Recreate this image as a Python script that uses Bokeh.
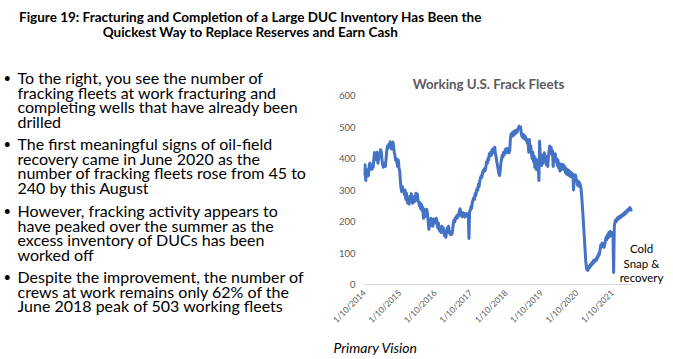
import math
import pandas as pd
from bokeh.plotting import figure
from bokeh.layouts import column, row
from bokeh.models import Label, Range1d, FixedTicker, ColumnDataSource
from bokeh.embed import file_html
from bokeh.resources import INLINE

# ---------------- data (weekly working frack fleets) ----------------
fleets_2014 = [345, 380, 330, 360, 350, 365, 345, 375, 385, 370,
               380, 365, 375, 372, 400, 419, 405, 412, 395, 420,
               385, 400, 415, 410, 428, 420, 395, 380, 372, 378,
               385, 375, 400, 425, 440, 432, 445, 438, 453, 440,
               430, 445, 452, 440, 420, 410, 395, 400, 385, 375,
               395, 370]
fleets_2015 = [360, 330, 305, 295, 310, 298, 300, 285, 300, 270,
               290, 265, 258, 262, 255, 280, 265, 288, 270, 258,
               275, 262, 280, 265, 290, 275, 287, 268, 262, 250,
               260, 240, 255, 235, 245, 210, 240, 215, 230, 220,
               238, 222, 200, 175, 205, 185, 210, 190, 200, 185,
               208, 195]
fleets_2016 = [205, 195, 210, 198, 180, 195, 175, 170, 180, 165,
               185, 168, 180, 165, 155, 170, 150, 168, 180, 165,
               185, 170, 162, 158, 165, 160, 175, 195, 205, 198,
               212, 208, 218, 212, 222, 218, 235, 240, 228, 222,
               215, 228, 220, 226, 214, 224, 218, 225, 222, 220,
               146, 232]
fleets_2017 = [235, 248, 242, 262, 268, 275, 270, 288, 282, 295,
               305, 300, 318, 312, 330, 338, 345, 340, 355, 362,
               358, 368, 362, 375, 390, 385, 400, 395, 415, 408,
               420, 410, 428, 418, 432, 425, 436, 415, 405, 390,
               378, 365, 352, 346, 360, 385, 398, 410, 405, 420,
               412, 425]
fleets_2018 = [430, 418, 432, 422, 428, 418, 425, 462, 478, 470,
               482, 472, 486, 476, 488, 480, 490, 484, 494, 498,
               503, 495, 500, 480, 470, 478, 465, 475, 462, 470,
               458, 462, 448, 455, 420, 460, 425, 440, 415, 400,
               420, 390, 408, 372, 400, 365, 395, 380, 385, 330,
               455, 410]
fleets_2019 = [400, 378, 410, 385, 402, 418, 392, 408, 380, 398,
               375, 405, 425, 440, 428, 435, 412, 425, 375, 408,
               395, 415, 392, 400, 378, 395, 370, 385, 360, 378,
               365, 382, 368, 380, 365, 375, 355, 368, 350, 365,
               348, 362, 345, 358, 342, 355, 345, 350, 300, 345,
               330, 348]
fleets_2020 = [335, 325, 315, 328, 312, 322, 315, 305, 280, 248,
               215, 180, 145, 110, 75, 52, 46, 45, 50, 58,
               55, 64, 60, 70, 65, 75, 70, 78, 74, 82,
               78, 90, 86, 98, 95, 110, 125, 118, 132, 120,
               125, 118, 128, 140, 150, 142, 158, 148, 165, 152,
               168, 158]
fleets_2021 = [165, 155, 162, 38, 185, 198, 205, 200, 210, 206,
               214, 210, 216, 212, 220, 216, 222, 219, 226, 222,
               230, 226, 234, 230, 238, 235, 242, 244, 240, 236,
               238]
first_week = "2014-01-10"

tick_dates = ["2014-01-10", "2015-01-10", "2016-01-10", "2017-01-10",
              "2018-01-10", "2019-01-10", "2020-01-10", "2021-01-10"]
tick_labels = ["1/10/2014", "1/10/2015", "1/10/2016", "1/10/2017",
               "1/10/2018", "1/10/2019", "1/10/2020", "1/10/2021"]
y_ticks = [0, 100, 200, 300, 400, 500, 600]

title_lines = ["Figure 19: Fracturing and Completion of a Large DUC Inventory Has Been the",
               "Quickest Way to Replace Reserves and Earn Cash"]
chart_title = "Working U.S. Frack Fleets"
bullets = [
    ["To the right, you see the number of",
     "fracking fleets at work fracturing and",
     "completing wells that have already been",
     "drilled"],
    ["The first meaningful signs of oil-field",
     "recovery came in June 2020 as the",
     "number of fracking fleets rose from 45 to",
     "240 by this August"],
    ["However, fracking activity appears to",
     "have peaked over the summer as the",
     "excess inventory of DUCs has been",
     "worked off"],
    ["Despite the improvement, the number of",
     "crews at work remains only 62% of the",
     "June 2018 peak of 503 working fleets"],
]
note_lines = ["Cold", "Snap &", "recovery"]
source_text = "Primary Vision"

# ---------------- build ----------------
values = (fleets_2014 + fleets_2015 + fleets_2016 + fleets_2017 +
          fleets_2018 + fleets_2019 + fleets_2020 + fleets_2021)
dates = pd.date_range(first_week, periods=len(values), freq="7D")
src = ColumnDataSource(data=dict(date=dates, fleets=values))

FONT = "Lato"
PAGE_W = 673
TOP_H, MID_H, BOT_H = 62, 273, 24
LEFT_W = 330
CHART_W = PAGE_W - LEFT_W


def no_align(f):
    if "frame_align" in f.properties():
        f.frame_align = False
    return f


def text_panel(w, h, x0, y0):
    """A blank figure whose data units equal page pixels (y downwards)."""
    f = figure(width=w, height=h, output_backend="svg", toolbar_location=None,
               x_range=Range1d(x0, x0 + w), y_range=Range1d(y0 + h, y0),
               x_axis_location=None, y_axis_location=None,
               min_border=0, min_border_left=0, min_border_right=0,
               min_border_top=0, min_border_bottom=0)
    f.outline_line_color = None
    f.grid.visible = False
    f.background_fill_color = "white"
    f.border_fill_color = "white"
    return no_align(f)


def put(fig, text, X, Y, size, color="#000000", align="left", style="normal",
        units="data"):
    fig.add_layout(Label(x=X, y=Y, x_units=units, y_units=units,
                         text=text, text_font=FONT, text_font_size=size,
                         text_color=color, text_align=align,
                         text_baseline="middle", text_font_style=style))


# --- title strip ---
top = text_panel(PAGE_W, TOP_H, 0, 0)
put(top, title_lines[0], 250, 16, "13.5px", align="center", style="bold")
put(top, title_lines[1], 250, 31, "13.5px", align="center", style="bold")

# --- bullets ---
left = text_panel(LEFT_W, MID_H, 0, TOP_H)
first_y = [77, 143, 210, 276]
for lines, y0 in zip(bullets, first_y):
    put(left, "\u2022", 3, y0, "13px")
    for i, line in enumerate(lines):
        put(left, line, 17, y0 + i * 14.7, "16px")

# --- source strip ---
bottom = text_panel(PAGE_W, BOT_H, 0, TOP_H + MID_H)
put(bottom, source_text, 333, 347, "14px", style="italic")

# --- chart ---
F_LEFT, F_RIGHT, F_TOP, F_BOT = 363, 666, 70, 286      # frame box, page px
Y0_PX, Y600_PX = 284, 95
px_per_unit = (Y0_PX - Y600_PX) / 600.0
y_start = -(F_BOT - Y0_PX) / px_per_unit
y_end = (Y0_PX - F_TOP) / px_per_unit

p = figure(width=CHART_W, height=MID_H, x_axis_type="datetime",
           output_backend="svg", toolbar_location=None,
           x_range=Range1d(pd.Timestamp("2014-01-01"), pd.Timestamp("2022-07-21")),
           y_range=Range1d(y_start, y_end),
           min_border_left=F_LEFT - LEFT_W, min_border_right=PAGE_W - F_RIGHT,
           min_border_top=F_TOP - TOP_H, min_border_bottom=TOP_H + MID_H - F_BOT)
no_align(p)
p.outline_line_color = None
p.grid.visible = False
p.background_fill_color = "white"
p.border_fill_color = "white"

# baseline at zero spanning the data
p.line(x=[dates[0], dates[-1]], y=[0, 0], line_color="#D9D9D9", line_width=1)
p.line(x="date", y="fleets", source=src, line_color="#4472C4",
       line_width=3, line_join="round")

tick_ms = [int(pd.Timestamp(d).value // 10**6) for d in tick_dates]
xa = p.xaxis[0]
xa.ticker = FixedTicker(ticks=tick_ms)
xa.major_label_overrides = {t: l for t, l in zip(tick_ms, tick_labels)}
xa.major_label_orientation = math.pi / 4
xa.axis_line_color = None
xa.major_tick_line_color = None
xa.minor_tick_line_color = None
xa.major_tick_out = 0
xa.major_label_standoff = 5
xa.major_label_text_color = "#595959"
xa.major_label_text_font = FONT
xa.major_label_text_font_size = "8.5px"

ya = p.yaxis[0]
ya.ticker = FixedTicker(ticks=y_ticks)
ya.axis_line_color = None
ya.major_tick_line_color = None
ya.minor_tick_line_color = None
ya.major_tick_out = 0
ya.major_label_standoff = 8
ya.major_label_text_color = "#595959"
ya.major_label_text_font = FONT
ya.major_label_text_font_size = "9.5px"

# texts inside the chart frame (screen units from the frame's bottom-left)
put(p, chart_title, 488 - F_LEFT, F_BOT - 83, "13.3px", color="#595959",
    align="center", style="bold", units="screen")
for i, line in enumerate(note_lines):
    put(p, line, 641 - F_LEFT, F_BOT - (248 + i * 14.5), "11.5px",
        align="center", units="screen")

layout = column(top, row(left, p, spacing=0), bottom, spacing=0)
open("out.html", "w").write(file_html(layout, INLINE))
